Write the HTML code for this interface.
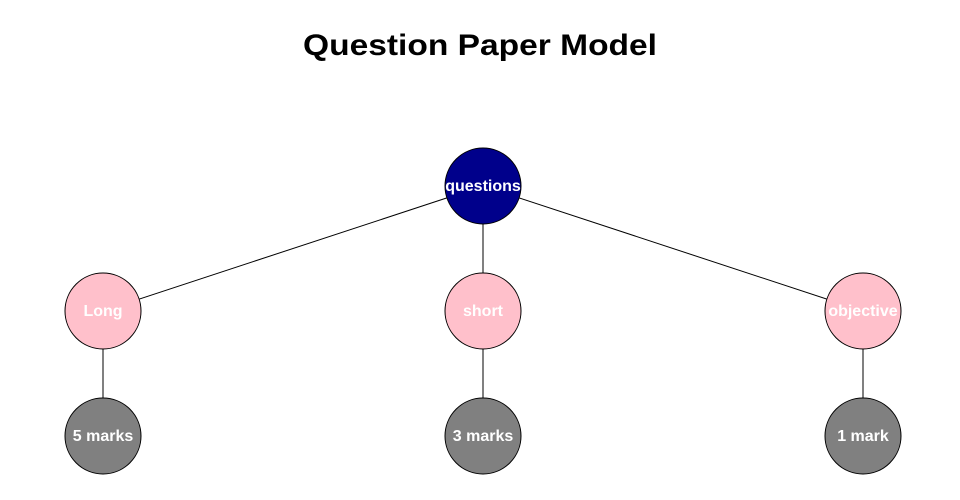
<!DOCTYPE html>
<html><head><style>
html,body{margin:0;padding:0;background:#fff;}
svg{display:block;}
</style></head><body>
<svg width="960" height="500" viewBox="0 0 960 500" xmlns="http://www.w3.org/2000/svg">
<rect width="960" height="500" fill="#fff"/>
<text x="480" y="55" text-anchor="middle" font-family="Liberation Sans, sans-serif" font-weight="bold" font-size="30" fill="#000" textLength="354" lengthAdjust="spacingAndGlyphs">Question Paper Model</text>
<g stroke="#000" stroke-width="1">
<line x1="483" y1="186" x2="103" y2="311"/>
<line x1="483" y1="186" x2="483" y2="311"/>
<line x1="483" y1="186" x2="863" y2="311"/>
<line x1="103" y1="311" x2="103" y2="436"/>
<line x1="483" y1="311" x2="483" y2="436"/>
<line x1="863" y1="311" x2="863" y2="436"/>
</g>
<g stroke="#000" stroke-width="1">
<circle cx="483" cy="186" r="38" fill="#00008b"/>
<circle cx="103" cy="311" r="38" fill="#ffc0cb"/>
<circle cx="483" cy="311" r="38" fill="#ffc0cb"/>
<circle cx="863" cy="311" r="38" fill="#ffc0cb"/>
<circle cx="103" cy="436" r="38" fill="#808080"/>
<circle cx="483" cy="436" r="38" fill="#808080"/>
<circle cx="863" cy="436" r="38" fill="#808080"/>
</g>
<g font-family="Liberation Sans, sans-serif" font-weight="bold" font-size="16" fill="#fff" text-anchor="middle">
<text x="483" y="191">questions</text>
<text x="103" y="316">Long</text>
<text x="483" y="316">short</text>
<text x="863" y="316">objective</text>
<text x="103" y="441">5 marks</text>
<text x="483" y="441">3 marks</text>
<text x="863" y="441">1 mark</text>
</g>
</svg>
</body></html>
